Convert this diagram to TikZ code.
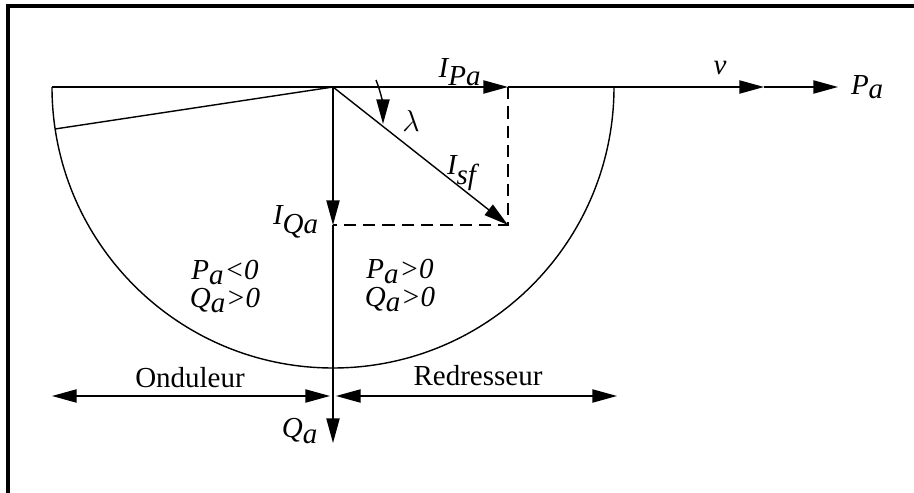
\documentclass[tikz,border=0pt]{standalone}
\usepackage{fontspec}
\setmainfont{Liberation Serif}
\usetikzlibrary{arrows.meta,positioning}
\newcommand{\vq}[2]{$\textit{#1}_{\textit{#2}}$}

\begin{document}
\begin{tikzpicture}[x=0.02cm,y=-0.02cm,line width=0.8pt,
  >={Triangle[length=14pt,width=7.5pt]},
  every node/.style={inner sep=1pt,font=\fontsize{16.5}{19}\selectfont},
  vec/.style={->},
  dbl/.style={<->},
  guide/.style={dash pattern=on 7pt off 4pt},
  zone/.style={align=center,font=\fontsize{16.5}{15.5}\selectfont}]
\useasboundingbox (0,0) rectangle (914,493);
% frame
\draw[line width=2.4pt] (8,493) -- (8,6) -- (914,6);
% --- points ---
\coordinate (O) at (333,87);
\coordinate (L) at (52,87);
\coordinate (R) at (614,87);
\coordinate (IP) at (508,87);
\coordinate (V) at (764,87);
\coordinate (PA) at (838,87);
\coordinate (IQ) at (333,225);
\coordinate (S) at (508,225);
\coordinate (QA) at (333,443);
\coordinate (K) at (55,129);
\coordinate (A1) at (376,80);
\coordinate (A2) at (383,124);
% --- axes ---
\draw (L) -- (O);
\draw[vec] (O) -- (IP);
\draw[vec] (IP) -- (V);
\draw[vec] (V) -- (PA);
\draw[vec] (O) -- (IQ);
\draw[vec] (IQ) -- (QA);
% --- semicircle and radius ---
\draw (R) arc[start angle=0,end angle=180,radius=281];
\draw (O) -- (K);
% --- current vector ---
\draw[guide] (IP) -- (S) -- (IQ);
\draw[vec] (O) -- (S);
\draw[vec] (A1) .. controls (381,92) and (383,106) .. (A2);
% --- modes ---
\coordinate (OndL) at (52,396);
\coordinate (OndR) at (330,396);
\coordinate (RedL) at (336,396);
\coordinate (RedR) at (617,396);
\draw[dbl] (OndL) -- (OndR);
\draw[dbl] (RedL) -- (RedR);
% --- labels ---
\node (lIP) at (460,72) {\vq{I}{Pa}};
\node (lv) at (720,68) {\textit{v}};
\node[right=6pt of PA] (lPA) {\vq{P}{a}};
\node (lam) at (411,121) {$\lambda$};
\node (lIsf) at (462,173) {\vq{I}{sf}};
\node (lIQ) at (296,222) {\vq{I}{Qa}};
\node (lQA) at (300,431) {\vq{Q}{a}};
\node[zone] (zL) at (225,287) {\vq{P}{a}\textit{<0}\\\vq{Q}{a}\textit{>0}};
\node[zone] (zR) at (400,286) {\vq{P}{a}\textit{>0}\\\vq{Q}{a}\textit{>0}};
\node (lOnd) at (190,378) {Onduleur};
\node (lRed) at (478,376) {Redresseur};
\end{tikzpicture}
\end{document}
